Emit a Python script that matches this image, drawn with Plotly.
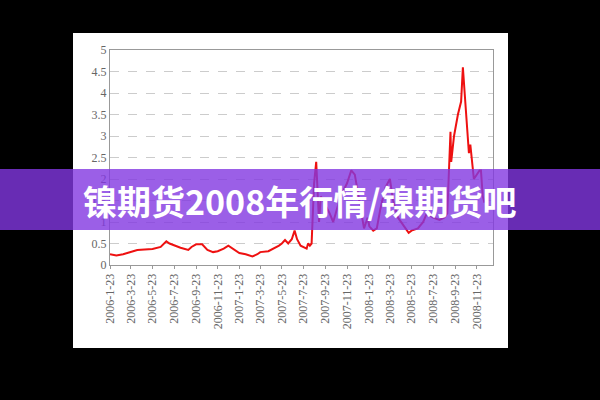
import plotly.graph_objects as go

dates = ["2006-01-23","2006-02-10","2006-03-01","2006-03-23","2006-04-10","2006-05-01","2006-05-23","2006-06-15","2006-07-01","2006-07-10","2006-07-23","2006-08-10","2006-09-01","2006-09-10","2006-09-23","2006-10-10","2006-10-25","2006-11-10","2006-11-23","2006-12-10","2006-12-23",
"2007-01-10","2007-01-23","2007-02-10","2007-03-01","2007-03-15","2007-03-23","2007-04-15","2007-05-01","2007-05-15","2007-05-23","2007-06-01","2007-06-10","2007-06-20","2007-06-28","2007-07-05","2007-07-15","2007-07-23","2007-08-01","2007-08-05","2007-08-10","2007-08-15","2007-08-18","2007-08-22","2007-08-28","2007-09-01","2007-09-05","2007-09-10","2007-09-23","2007-10-05","2007-10-15","2007-10-25","2007-11-05","2007-11-23","2007-12-05","2007-12-15","2007-12-25",
"2008-01-05","2008-01-10","2008-01-20","2008-01-25","2008-02-05","2008-02-15","2008-02-25","2008-03-10","2008-03-23","2008-04-01","2008-04-15","2008-05-01","2008-05-15","2008-05-23","2008-06-10","2008-06-25","2008-07-05","2008-07-23","2008-08-10","2008-08-23","2008-09-01","2008-09-10","2008-09-12","2008-09-20","2008-10-01","2008-10-10","2008-10-15","2008-10-20","2008-10-25","2008-11-01","2008-11-05","2008-11-15","2008-11-23","2008-12-01","2008-12-05","2008-12-10","2008-12-15"]
values = [0.25,0.22,0.25,0.3,0.35,0.36,0.37,0.42,0.55,0.5,0.45,0.4,0.35,0.42,0.48,0.48,0.35,0.3,0.32,0.38,0.45,
0.35,0.28,0.25,0.2,0.25,0.3,0.32,0.38,0.45,0.5,0.58,0.5,0.6,0.8,0.6,0.45,0.42,0.38,0.5,0.45,0.5,1.3,1.9,2.4,1.5,1.0,1.6,1.4,1.2,1.0,1.3,1.6,1.9,2.2,2.1,1.6,
1.0,0.85,1.1,0.9,0.8,0.85,1.3,1.8,2.0,1.5,1.1,0.9,0.75,0.8,0.85,1.0,1.2,1.1,1.05,1.1,1.2,3.1,2.4,3.0,3.5,3.8,4.6,4.0,3.5,2.6,2.8,2.0,2.1,2.2,2.2,1.6,1.45]
tick_dates = ["2006-01-23","2006-03-23","2006-05-23","2006-07-23","2006-09-23","2006-11-23","2007-01-23","2007-03-23","2007-05-23","2007-07-23","2007-09-23","2007-11-23","2008-01-23","2008-03-23","2008-05-23","2008-07-23","2008-09-23","2008-11-23"]
tick_labels = [d[:4]+"-"+str(int(d[5:7]))+"-"+str(int(d[8:])) for d in tick_dates]
title = "镍期货2008年行情/镍期货吧"

fig = go.Figure(go.Scatter(x=dates, y=values, mode="lines", line=dict(color="#ee1111", width=2)))
W, H = 383, 215
def px(x): return (x-110)/W
def py(y): return (265-y)/H
fig.update_layout(
    width=600, height=400, margin=dict(l=110, r=107, t=50, b=135),
    paper_bgcolor="black", plot_bgcolor="white", showlegend=False,
    xaxis=dict(type="date", range=["2006-01-23","2009-01-08"], tickvals=tick_dates, ticktext=tick_labels,
               tickangle=-90, showgrid=False, showline=True, linecolor="#999", mirror=True,
               ticks="outside", ticklen=3, tickcolor="#999",
               tickfont=dict(family="Liberation Serif", size=12, color="#666")),
    yaxis=dict(range=[0,5], tickvals=[0,0.5,1,1.5,2,2.5,3,3.5,4,4.5,5],
               ticktext=["0","0.5","1","1.5","2","2.5","3","3.5","4","4.5","5"],
               showgrid=True, gridcolor="#ccc", griddash="dash", showline=True, linecolor="#999", mirror=True,
               zeroline=False, tickfont=dict(family="Liberation Serif", size=12, color="#666")),
    shapes=[
        dict(type="rect", xref="paper", yref="paper", x0=px(73), x1=px(508), y0=py(348), y1=py(33),
             fillcolor="white", line=dict(width=0), layer="below"),
        dict(type="rect", xref="paper", yref="paper", x0=px(-5), x1=px(605), y0=py(230), y1=py(169),
             fillcolor="rgba(130,55,225,0.8)", line=dict(width=0), layer="above"),
    ],
    annotations=[dict(text="<b>"+title+"</b>", xref="paper", yref="paper", x=px(299), y=py(200),
                      yanchor="middle", showarrow=False,
                      font=dict(family="Noto Sans CJK SC", size=34, color="white"))],
)
fig.write_html("out.html", config={"displayModeBar": False},
               post_script="document.body.style.margin='0';document.body.style.background='black';")
